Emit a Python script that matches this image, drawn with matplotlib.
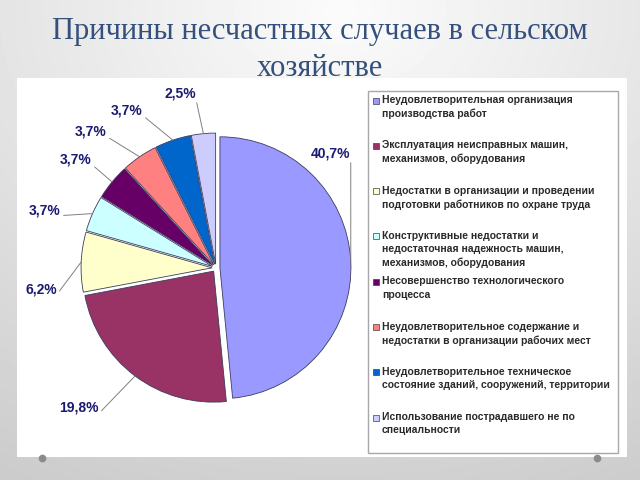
import numpy as np
import matplotlib.pyplot as plt
from matplotlib.patches import Rectangle
from matplotlib.lines import Line2D

title = "Причины несчастных случаев в сельском\nхозяйстве"
categories = [
    "Неудовлетворительная организация\nпроизводства работ",
    "Эксплуатация неисправных машин,\nмеханизмов, оборудования",
    "Недостатки в организации и проведении\nподготовки работников по охране труда",
    "Конструктивные недостатки и\nнедостаточная надежность машин,\nмеханизмов, оборудования",
    "Несовершенство технологического\nпроцесса",
    "Неудовлетворительное содержание и\nнедостатки в организации рабочих мест",
    "Неудовлетворительное техническое\nсостояние зданий, сооружений, территории",
    "Использование пострадавшего не по\nспециальности",
]
values = [40.7, 19.8, 6.2, 3.7, 3.7, 3.7, 3.7, 2.5]
value_labels = ["40,7%", "19,8%", "6,2%", "3,7%", "3,7%", "3,7%", "3,7%", "2,5%"]
colors = ["#9999FF", "#993366", "#FFFFCC", "#CCFFFF", "#660066", "#FF8080", "#0066CC", "#CCCCFF"]

W, H = 640, 480
fig = plt.figure(figsize=(6.4, 4.8), dpi=100)

# slide background gradient
bg = fig.add_axes([0, 0, 1, 1], zorder=-10)
yy, xx = np.mgrid[0:H, 0:W]
d = np.sqrt(((xx - 340) / W) ** 2 + ((yy - 10) / H) ** 2)
img = 0.985 - 0.17 * d
bg.imshow(img, cmap='gray', vmin=0, vmax=1, extent=[0, 1, 0, 1], aspect='auto', origin='upper')
bg.axis('off')

# white chart panel
fig.add_artist(Rectangle((17 / W, 1 - 457 / H), (627 - 17) / W, (457 - 78) / H,
                         transform=fig.transFigure, facecolor='white', edgecolor='none', zorder=-5))

# decorative dots
for px in (42, 597):
    fig.add_artist(Line2D([px / W], [1 - 458 / H], marker='o', markersize=4.5,
                          color='#8a8a8a', transform=fig.transFigure, zorder=-4))

# title
fig.text(320 / W, 1 - 50 / H, title, ha='center', va='center', fontsize=22,
         family='Liberation Serif', color='#34507c', linespacing=1.32)

# pie
cx, cy, R = 216, 268, 131
ax = fig.add_axes([(cx - 200) / W, 1 - (cy + 200) / H, 400 / W, 400 / H])
wedges, _ = ax.pie(values, colors=colors, startangle=90, counterclock=False,
                   explode=[0.03] * len(values),
                   wedgeprops=dict(edgecolor='#3c3c5c', linewidth=0.6))
ax.set_xlim(-200 / R, 200 / R)
ax.set_ylim(-200 / R, 200 / R)
ax.axis('off')

# label centres in pixels (layout)
label_px = [(331, 153), (79, 408), (41, 289), (45, 210),
            (76, 159), (91, 131), (127, 110), (180, 93)]
label_rel = [(1, 0.5), (1, 0.1), (1, 0.1), (1, 0.1), (1, 0.1), (1, 0.1), (1, 0.1), (1, 0.1)]
for w, lab, (px, py), rp in zip(wedges, value_labels, label_px, label_rel):
    mid = np.deg2rad((w.theta1 + w.theta2) / 2)
    xc, yc = w.center
    anchor = (xc + np.cos(mid), yc + np.sin(mid))
    ax.annotate(lab, xy=anchor, xytext=((px - cx) / R, (cy - py) / R), ha='center', va='center',
                fontsize=10, fontweight='bold', family='Liberation Sans', color='#1a1a70',
                arrowprops=dict(arrowstyle='-', color='#808080', lw=0.7,
                                shrinkA=0, shrinkB=0, relpos=rp))

# legend box
fig.add_artist(Rectangle((368 / W, 1 - 453 / H), (618 - 368) / W, (453 - 91) / H,
                         transform=fig.transFigure, facecolor='white', edgecolor='#a8a8a8',
                         linewidth=1, zorder=1))
for i, (cat, col) in enumerate(zip(categories, colors)):
    ytop = 95 + i * 45.3
    fig.add_artist(Rectangle((373 / W, 1 - (ytop + 8.5) / H), 6 / W, 6 / H,
                             transform=fig.transFigure, facecolor=col, edgecolor='#404040',
                             linewidth=0.5, zorder=2))
    fig.text(382 / W, 1 - ytop / H, cat, ha='left', va='top', fontsize=7.5,
             fontweight='bold', family='Liberation Sans', color='#2a2a2a',
             linespacing=1.42, zorder=3)

fig.savefig('out.png', dpi=100)
